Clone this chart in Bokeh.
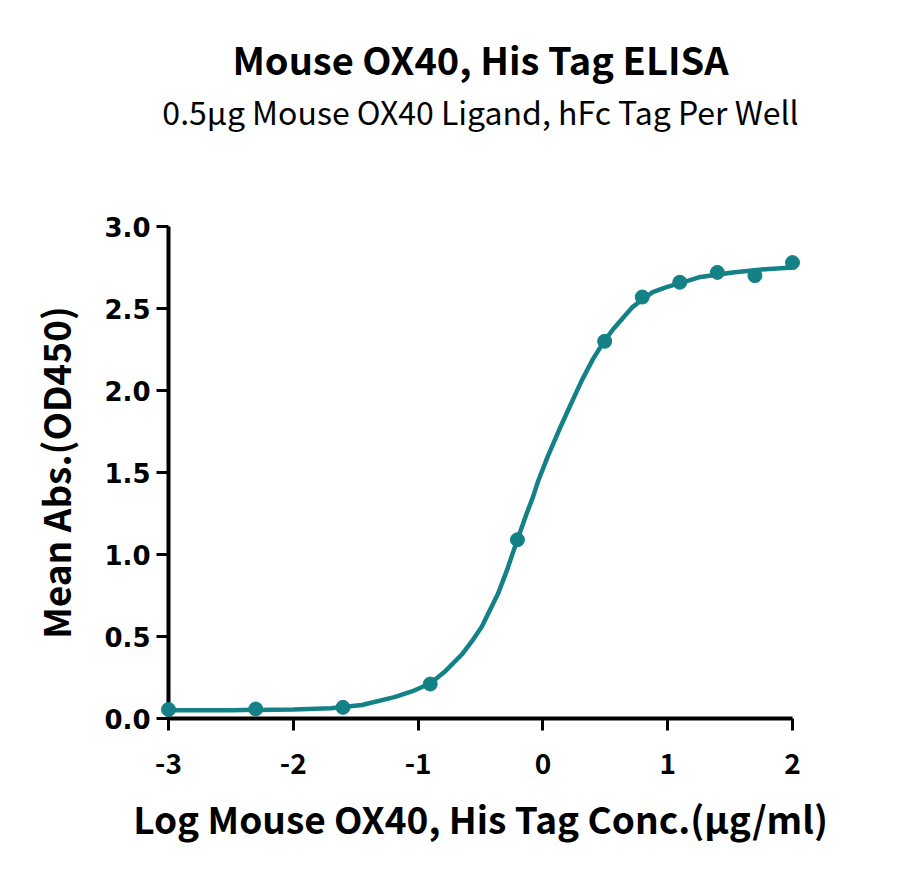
from bokeh.embed import file_html
from bokeh.models import FixedTicker, Range1d, Title
from bokeh.plotting import figure
from bokeh.resources import INLINE

# measured points (log conc, OD450)
log_conc = [-3.0, -2.301, -1.602, -0.903, -0.204, 0.495, 0.796, 1.097, 1.398, 1.699, 2.0]
mean_abs = [0.055, 0.058, 0.068, 0.21, 1.09, 2.30, 2.57, 2.66, 2.72, 2.70, 2.78]

# fitted curve
curve_x = [-3.0, -2.5, -2.0, -1.7, -1.45, -1.19, -1.05, -0.9, -0.78, -0.65, -0.57,
           -0.49, -0.36, -0.29, -0.225, -0.13, -0.08, -0.037, 0.04, 0.128, 0.22,
           0.311, 0.40, 0.49, 0.57, 0.646, 0.72, 0.79, 0.88, 0.99, 1.1,
           1.25, 1.52, 1.78, 2.0]
curve_y = [0.050, 0.051, 0.055, 0.063, 0.082, 0.13, 0.165, 0.215, 0.29, 0.39, 0.47,
           0.56, 0.76, 0.90, 1.045, 1.25, 1.35, 1.45, 1.60, 1.756, 1.91,
           2.06, 2.19, 2.30, 2.38, 2.447, 2.51, 2.55, 2.60, 2.63, 2.655,
           2.69, 2.72, 2.74, 2.75]

x_ticks = [-3, -2, -1, 0, 1, 2]
y_ticks = [0.0, 0.5, 1.0, 1.5, 2.0, 2.5, 3.0]

teal = "#138185"
font = "Noto Sans CJK SC"

p = figure(width=884, height=864, x_range=Range1d(-3, 2), y_range=Range1d(0, 3),
           output_backend="svg", toolbar_location=None,
           min_border_left=168, min_border_right=92,
           min_border_top=226, min_border_bottom=146)
p.outline_line_color = None
p.grid.visible = False

p.line(curve_x, curve_y, line_width=4.5, color=teal, level="overlay")
p.scatter(log_conc, mean_abs, size=14, color=teal, level="overlay")

# axes
for ax in (p.xaxis[0], p.yaxis[0]):
    ax.axis_line_width = 4
    ax.major_tick_line_width = 3
    ax.major_tick_out = 12
    ax.major_tick_in = 0
    ax.minor_tick_line_color = None
    ax.axis_label_text_font = font
    ax.axis_label_text_font_style = "bold"
    ax.axis_label_text_color = "black"
    ax.major_label_text_color = "black"

p.xaxis.ticker = FixedTicker(ticks=x_ticks)
p.xaxis.major_label_overrides = {t: "%d" % t for t in x_ticks}
p.xaxis.axis_label = "Log Mouse OX40, His Tag Conc.(μg/ml)"
p.xaxis.axis_label_text_font_size = "37px"
p.xaxis.major_label_text_font = font
p.xaxis.major_label_text_font_style = "bold"
p.xaxis.major_label_text_font_size = "28px"
p.xaxis.major_label_standoff = 22
p.xaxis.axis_label_standoff = 14

p.yaxis.ticker = FixedTicker(ticks=y_ticks)
p.yaxis.axis_label = "Mean Abs.(OD450)"
p.yaxis.axis_label_text_font_size = "37px"
p.yaxis.major_label_overrides = {t: "%.1f" % t for t in y_ticks}
p.yaxis.major_label_text_font = "DejaVu Sans"
p.yaxis.major_label_text_font_style = "bold"
p.yaxis.major_label_text_font_size = "26px"
p.yaxis.major_label_standoff = 6
p.yaxis.axis_label_standoff = 19

# titles: a blank spacer next to the frame, then subtitle, then main title
p.add_layout(Title(text=" ", text_font_size="1px", standoff=90), "above")
p.add_layout(Title(text="0.5μg Mouse OX40 Ligand, hFc Tag Per Well", align="center",
                   text_font=font, text_font_style="normal", text_font_size="32px",
                   text_color="black", standoff=0), "above")
p.add_layout(Title(text="Mouse OX40, His Tag ELISA", align="center",
                   text_font=font, text_font_style="bold", text_font_size="38px",
                   text_color="black", standoff=0), "above")

open("out.html", "w").write(file_html(p, INLINE))
